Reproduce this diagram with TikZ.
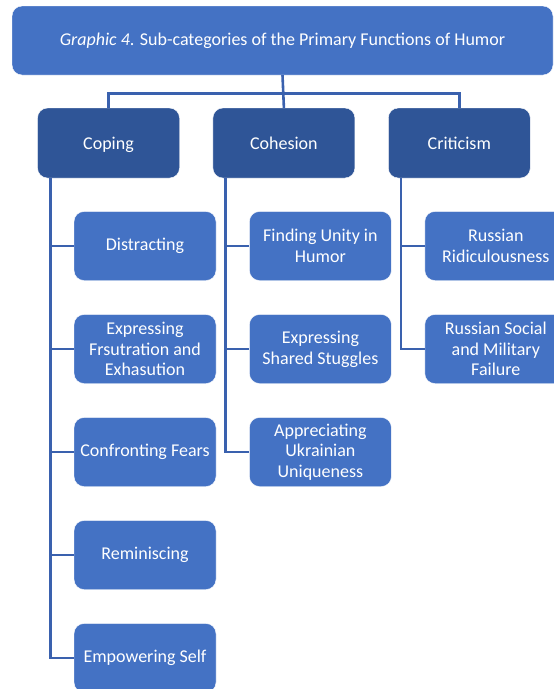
\documentclass[tikz,border=0pt]{standalone}
\usepackage{fontspec}
\setmainfont{Carlito}
\usepackage{tikz}
\usetikzlibrary{positioning}
\definecolor{boxblue}{HTML}{4472C4}
\definecolor{darkblue}{HTML}{2F5597}
\definecolor{linkblue}{HTML}{3A61AE}
\tikzstyle{title} = [rectangle, rounded corners=10pt, minimum width=541pt, minimum
height=69pt, text centered, draw=white, fill=boxblue, text=white,
font=\fontsize{18}{20.7}\selectfont]
\tikzstyle{category} = [rectangle, rounded corners=10pt, minimum width=142pt,
minimum height=70pt, align=center, inner sep=2pt, draw=white, fill=darkblue,
text=white, text height=14.5pt, text depth=2pt, font=\fontsize{18}{20.7}\selectfont]
\tikzstyle{subcat} = [rectangle, rounded corners=10pt, minimum width=142pt,
minimum height=69pt, align=center, inner sep=2pt, draw=white, fill=boxblue,
text=white, font=\fontsize{18}{20.7}\selectfont]
\tikzstyle{link} = [line width=2.6pt, draw=linkblue]

\begin{document}
\begin{tikzpicture}[x=1pt, y=1pt, node distance=103pt]
\useasboundingbox (0,0) rectangle (554,-689);

\node(title)[title] at (282.5,-40.5){\textit{Graphic 4}. Sub-categories of the Primary Functions of Humor};
\node(coping)[category] at (108.5,-143){Coping};
\node(cohesion)[category, right=33pt of coping]{Cohesion};
\node(criticism)[category, right=33pt of cohesion]{Criticism};

% coping branch
\node(distract)[subcat, below of=coping, xshift=36.5pt]{Distracting};
\node(frustrate)[subcat, below of=distract]{Expressing\\Frsutration and\\Exhasution};
\node(fears)[subcat, below of=frustrate]{Confronting Fears};
\node(remin)[subcat, below of=fears]{Reminiscing};
\node(empower)[subcat, below of=remin]{Empowering Self};

% cohesion branch
\node(unity)[subcat, below of=cohesion, xshift=36.5pt]{Finding Unity in\\Humor};
\node(struggle)[subcat, below of=unity]{Expressing\\Shared Stuggles};
\node(unique)[subcat, below of=struggle]{Appreciating\\Ukrainian\\Uniqueness};

% criticism branch
\node(ridicule)[subcat, below of=criticism, xshift=36.5pt]{Russian\\Ridiculousness};
\node(failure)[subcat, below of=ridicule]{Russian Social\\and Military\\Failure};

\draw[link](title.south) -- (cohesion.north);
\draw[link]([yshift=-18pt]title.south) -| (coping.north);
\draw[link]([yshift=-18pt]title.south) -| (criticism.north);

\draw[link]([xshift=13pt]coping.south west) |- (distract.west);
\draw[link]([xshift=13pt]coping.south west) |- (frustrate.west);
\draw[link]([xshift=13pt]coping.south west) |- (fears.west);
\draw[link]([xshift=13pt]coping.south west) |- (remin.west);
\draw[link]([xshift=13pt]coping.south west) |- (empower.west);

\draw[link]([xshift=13pt]cohesion.south west) |- (unity.west);
\draw[link]([xshift=13pt]cohesion.south west) |- (struggle.west);
\draw[link]([xshift=13pt]cohesion.south west) |- (unique.west);

\draw[link]([xshift=13pt]criticism.south west) |- (ridicule.west);
\draw[link]([xshift=13pt]criticism.south west) |- (failure.west);

\end{tikzpicture}
\end{document}
